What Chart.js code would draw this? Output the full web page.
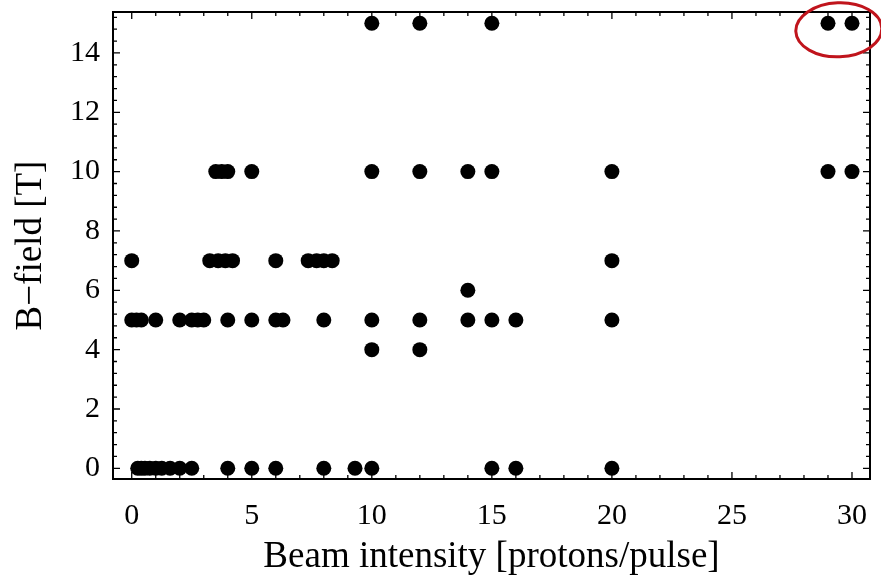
<!DOCTYPE html>
<html>
<head>
<meta charset="utf-8">
<script src="https://cdn.jsdelivr.net/npm/chart.js@4/dist/chart.umd.min.js"></script>
<style>
  html, body { margin: 0; padding: 0; background: #fff; }
  #wrap { width: 881px; height: 576px; }
</style>
</head>
<body>
<div id="wrap"><canvas id="chart"></canvas></div>
<script>
// beam intensity values measured at each B-field setting
const field0 = [0.25, 0.4, 0.55, 0.75, 1.0, 1.25, 1.6, 2.0, 2.5, 4, 5, 6, 8, 9.3, 10, 15, 16, 20];
const field4 = [10, 12];
const field5 = [0, 0.2, 0.4, 1, 2, 2.5, 2.75, 3, 4, 5, 6, 6.3, 8, 10, 12, 14, 15, 16, 20];
const field6 = [14];
const field7 = [0, 3.25, 3.6, 3.9, 4.2, 6, 7.35, 7.7, 8, 8.35, 20];
const field10 = [3.5, 3.75, 4, 5, 10, 12, 14, 15, 20, 29, 30];
const field15 = [10, 12, 15, 29, 30];

const xTicks = [0, 5, 10, 15, 20, 25, 30];
const yTicks = [0, 2, 4, 6, 8, 10, 12, 14];
const xLabel = 'Beam intensity [protons/pulse]';
const yLabel = 'B\u2212field [T]';

const rows = [[0, field0], [4, field4], [5, field5], [6, field6], [7, field7], [10, field10], [15, field15]];
const points = [];
rows.forEach(([b, xs]) => xs.forEach(x => points.push({ x: x, y: b })));

const serif = '"Liberation Serif", "Times New Roman", serif';

// frame with inward ticks, plus the red ring around the 15 T runs
const frame = {
    id: 'frame',
    afterDatasetsDraw(chart) {
        const { ctx, chartArea: a, scales: { x, y } } = chart;
        ctx.save();
        ctx.strokeStyle = '#000';
        ctx.lineWidth = 1.3;
        ctx.beginPath();
        for (let v = 0; v <= 30; v++) {
            const px = x.getPixelForValue(v);
            const len = v % 5 ? 4 : 7;
            ctx.moveTo(px, a.bottom); ctx.lineTo(px, a.bottom - len);
            ctx.moveTo(px, a.top); ctx.lineTo(px, a.top + len);
        }
        for (let i = 0; i <= 38; i++) {
            const py = y.getPixelForValue(i * 0.4);
            const len = i % 5 ? 4 : 7;
            ctx.moveTo(a.left, py); ctx.lineTo(a.left + len, py);
            ctx.moveTo(a.right, py); ctx.lineTo(a.right - len, py);
        }
        ctx.stroke();
        ctx.lineWidth = 2;
        ctx.strokeRect(a.left, a.top, a.right - a.left, a.bottom - a.top);

        ctx.strokeStyle = '#c0141c';
        ctx.lineWidth = 3;
        ctx.beginPath();
        ctx.ellipse(x.getPixelForValue(29.45), y.getPixelForValue(14.78), 43, 27, -0.04, 0, Math.PI * 2);
        ctx.stroke();
        ctx.restore();
    },
};

new Chart(document.getElementById('chart'), {
    type: 'scatter',
    data: {
        datasets: [{
            data: points,
            pointStyle: 'circle',
            pointRadius: 7.5,
            pointHoverRadius: 7.5,
            backgroundColor: '#000',
            borderWidth: 0,
            clip: false,
        }],
    },
    options: {
        responsive: true,
        maintainAspectRatio: false,
        animation: false,
        events: [],
        layout: { padding: { top: 12, right: 11, left: 0, bottom: 0 } },
        plugins: { legend: { display: false }, tooltip: { enabled: false } },
        scales: {
            x: {
                type: 'linear',
                min: -0.78,
                max: 30.75,
                afterBuildTicks: (s) => { s.ticks = xTicks.map(v => ({ value: v })); },
                afterFit: (s) => { s.height = 97; s.paddingLeft = 0; s.paddingRight = 0; },
                grid: { display: false, drawTicks: false },
                border: { display: false },
                ticks: { color: '#000', padding: 19, font: { family: serif, size: 30 } },
                title: { display: true, text: xLabel, color: '#000', padding: { top: 0, bottom: 0 }, font: { family: serif, size: 37, lineHeight: 1 } },
            },
            y: {
                type: 'linear',
                min: -0.36,
                max: 15.38,
                afterBuildTicks: (s) => { s.ticks = yTicks.map(v => ({ value: v })); },
                afterFit: (s) => { s.width = 113; s.paddingTop = 0; s.paddingBottom = 0; },
                grid: { display: false, drawTicks: false },
                border: { display: false },
                ticks: { color: '#000', padding: 13, font: { family: serif, size: 30 } },
                title: { display: true, text: yLabel, color: '#000', padding: { top: 13, bottom: 0 }, font: { family: serif, size: 37, lineHeight: 1 } },
            },
        },
    },
    plugins: [frame],
});
</script>
</body>
</html>
